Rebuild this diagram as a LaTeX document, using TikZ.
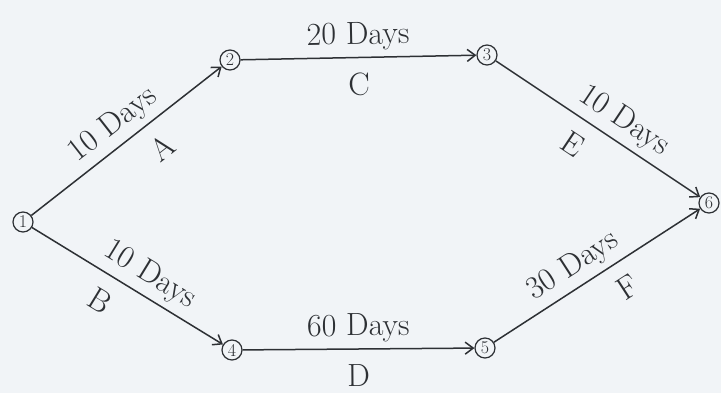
\documentclass[tikz,border=0pt]{standalone}
\usetikzlibrary{arrows.meta}
\definecolor{ink}{RGB}{45,48,52}
\definecolor{bg}{RGB}{241,244,247}
\begin{document}
\begin{tikzpicture}[x=1pt,y=-1pt,
  ev/.style={circle, draw=ink, line width=1.2pt, minimum size=20pt, inner sep=0pt, font=\fontsize{18}{18}\selectfont, text=ink},
  act/.style={draw=ink, line width=1.5pt, -{Straight Barb[length=8pt,width=12pt,line width=1.5pt]}},
  lab/.style={font=\fontsize{32}{32}\selectfont, text=ink, sloped, inner sep=6pt},
  up/.style={lab, above},
  dn/.style={lab, below=9pt}]
\fill[bg] (0,0) rectangle (721,393);
\useasboundingbox (0,0) rectangle (721,393);
\node[ev] (n1) at (23,222) {1};
\node[ev] (n2) at (230,60) {2};
\node[ev] (n3) at (487,55) {3};
\node[ev] (n4) at (232,350) {4};
\node[ev] (n5) at (485,348) {5};
\node[ev] (n6) at (709,203) {6};
\draw[act] (n1) -- node[up, pos=0.5] {10 Days} node[dn, pos=0.6] {A} (n2);
\draw[act] (n1) -- node[up, pos=0.56] {10 Days} node[dn, pos=0.43] {B} (n4);
\draw[act] (n2) -- node[up, pos=0.5] {20 Days} node[dn, pos=0.5] {C} (n3);
\draw[act] (n4) -- node[up, pos=0.5] {60 Days} node[dn, pos=0.5] {D} (n5);
\draw[act] (n3) -- node[up, pos=0.57] {10 Days} node[dn, pos=0.45] {E} (n6);
\draw[act] (n5) -- node[up, pos=0.44] {30 Days} node[dn, pos=0.58] {F} (n6);
\end{tikzpicture}
\end{document}
